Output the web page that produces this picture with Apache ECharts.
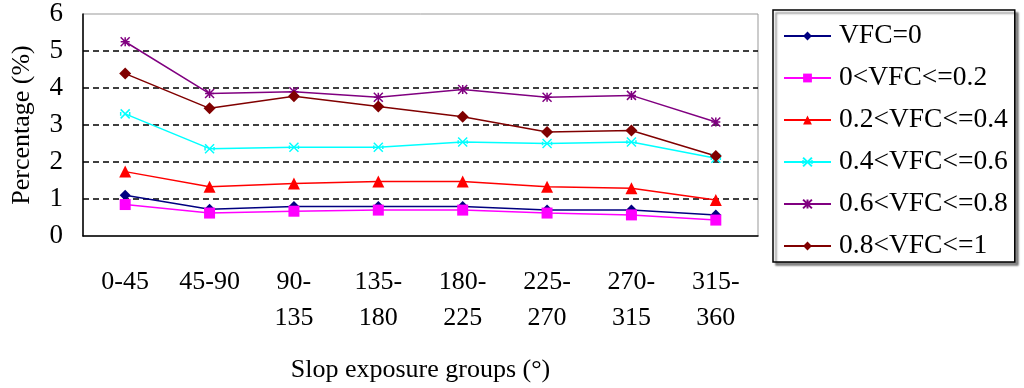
<!DOCTYPE html>
<html>
<head>
<meta charset="utf-8">
<script src="https://cdn.jsdelivr.net/npm/echarts@6/dist/echarts.min.js"></script>
<style>
html,body{margin:0;padding:0;background:#fff;}
#chart{width:1024px;height:388px;}
</style>
</head>
<body>
<div id="chart"></div>
<script>
var categories = ['0-45', '45-90', '90-\n135', '135-\n180', '180-\n225', '225-\n270', '270-\n315', '315-\n360'];
var vfc0 = [1.1, 0.72, 0.8, 0.8, 0.8, 0.7, 0.7, 0.57];
var vfc0_02 = [0.85, 0.62, 0.67, 0.7, 0.7, 0.62, 0.57, 0.43];
var vfc02_04 = [1.74, 1.33, 1.42, 1.47, 1.47, 1.33, 1.29, 0.97];
var vfc04_06 = [3.3, 2.36, 2.4, 2.4, 2.54, 2.5, 2.54, 2.1];
var vfc06_08 = [5.25, 3.85, 3.9, 3.75, 3.96, 3.75, 3.8, 3.08];
var vfc08_1 = [4.39, 3.45, 3.78, 3.5, 3.22, 2.81, 2.85, 2.16];
var seriesNames = ['VFC=0', '0<VFC<=0.2', '0.2<VFC<=0.4', '0.4<VFC<=0.6', '0.6<VFC<=0.8', '0.8<VFC<=1'];
var yTicks = [0, 1, 2, 3, 4, 5, 6];

var FONT = '"Liberation Serif", "Times New Roman", serif';
var xSym = 'path://M0,0 L10,10 M10,0 L0,10 M0,3 L0,7 M10,3 L10,7';
var starSym = 'path://M0,0 L10,10 M10,0 L0,10 M5,0 L5,10 M0,5 L10,5';

function mk(name, data, color, symbol, size, stroke) {
  return {
    name: name, type: 'line', data: data,
    symbol: symbol, symbolSize: size,
    lineStyle: { color: color, width: 1.5 },
    itemStyle: stroke ? { color: 'rgba(0,0,0,0)', borderColor: color, borderWidth: 1.5 } : { color: color },
    color: color,
    emphasis: { disabled: true }
  };
}

var chart = echarts.init(document.getElementById('chart'), null, { renderer: 'canvas' });
chart.setOption({
  animation: false,
  backgroundColor: '#fff',
  grid: { left: 83, right: 266, top: 14, bottom: 150, show: true, borderColor: '#999', borderWidth: 1, backgroundColor: 'transparent' },
  legend: {
    orient: 'vertical', left: 773, top: 10,
    padding: [12, 7, 2, 10],
    itemGap: 14, itemWidth: 47, itemHeight: 11,
    borderColor: '#000', borderWidth: 1.5,
    backgroundColor: '#fff',
    shadowColor: 'rgba(0,0,0,0.45)', shadowOffsetX: 3, shadowOffsetY: 3, shadowBlur: 2,
    textStyle: { fontFamily: FONT, fontSize: 27.5, color: '#000', lineHeight: 26, padding: [0, 0, 0, 3] },
    data: seriesNames
  },
  xAxis: {
    type: 'category', data: categories, boundaryGap: true,
    axisLine: { lineStyle: { color: '#000', width: 1.5 } },
    axisTick: { inside: true, length: 7, lineStyle: { color: '#000', width: 1.5 } },
    axisLabel: { fontFamily: FONT, fontSize: 26, color: '#000', lineHeight: 36, margin: 28, interval: 0 },
    name: 'Slop exposure groups (°)', nameLocation: 'middle', nameGap: 121,
    nameTextStyle: { fontFamily: FONT, fontSize: 26, color: '#000' }
  },
  yAxis: {
    type: 'value', min: 0, max: 6, interval: 1,
    axisLine: { show: true, lineStyle: { color: '#000', width: 1.5 } },
    axisTick: { show: false },
    axisLabel: { fontFamily: FONT, fontSize: 27, color: '#000', margin: 20,
      formatter: function (v) { return yTicks.indexOf(v) >= 0 ? String(v) : ''; } },
    splitLine: { show: true, showMinLine: false, showMaxLine: false, lineStyle: { color: '#000', type: [6, 4], width: 1.5 } },
    name: 'Percentage (%)', nameLocation: 'middle', nameGap: 48,
    nameTextStyle: { fontFamily: FONT, fontSize: 26, color: '#000' }
  },
  series: [
    mk(seriesNames[0], vfc0, '#000080', 'diamond', 11, false),
    mk(seriesNames[1], vfc0_02, '#FF00FF', 'rect', 11, false),
    mk(seriesNames[2], vfc02_04, '#FF0000', 'triangle', 12, false),
    mk(seriesNames[3], vfc04_06, '#00FFFF', xSym, 9, true),
    mk(seriesNames[4], vfc06_08, '#800080', starSym, 9, true),
    mk(seriesNames[5], vfc08_1, '#800000', 'diamond', 12, false)
  ]
});
</script>
</body>
</html>
